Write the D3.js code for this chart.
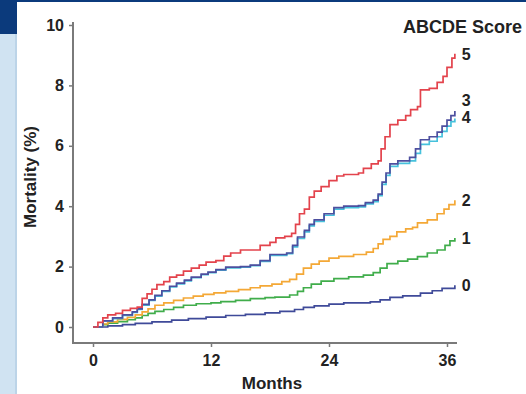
<!DOCTYPE html>
<html>
<head>
<meta charset="utf-8">
<script src="https://cdn.jsdelivr.net/npm/d3@7"></script>
<style>
  body { margin: 0; background: #fff; }
  text { font-family: "Liberation Sans", Arial, sans-serif; font-weight: bold; fill: #222; }
</style>
</head>
<body>
<div id="container"></div>
<script>
// cumulative mortality (%) by month, one step series per ABCDE score
const score0 = [[0,0],[1.5,0.04],[3,0.08],[4.3,0.12],[6,0.17],[8,0.23],[9.7,0.28],[11.5,0.33],[13.5,0.38],[15.5,0.42],[17.5,0.47],[19,0.52],[20.5,0.58],[21.4,0.65],[22.5,0.7],[24,0.76],[25.5,0.8],[28.2,0.83],[29.2,0.9],[30.2,0.98],[31.5,1.03],[33.3,1.12],[34.5,1.2],[35.5,1.28],[36.8,1.38]];
const score1 = [[0,0],[1,0.08],[1.5,0.13],[2.5,0.18],[3.5,0.24],[4.3,0.3],[5,0.38],[5.6,0.45],[6.3,0.52],[7.2,0.58],[8.2,0.65],[9.2,0.72],[10.5,0.77],[12,0.8],[13,0.84],[14.5,0.88],[16,0.94],[17.5,0.97],[18.5,0.99],[20,1.06],[20.8,1.18],[21.4,1.3],[22.2,1.42],[23.2,1.52],[24.5,1.6],[26,1.66],[27.5,1.72],[28.5,1.8],[29.2,1.95],[29.9,2.1],[31,2.18],[32,2.25],[33,2.33],[34,2.45],[35,2.55],[35.8,2.7],[36.3,2.85],[36.8,2.95]];
const score2 = [[0,0],[1,0.1],[1.5,0.17],[2.5,0.25],[3.5,0.32],[4.3,0.4],[5,0.5],[5.6,0.6],[6.3,0.72],[7.2,0.8],[8.2,0.88],[9.2,0.96],[10.2,1.02],[11.2,1.08],[12.3,1.13],[13.5,1.18],[14.8,1.24],[16,1.3],[17,1.36],[18.2,1.42],[19.2,1.5],[20,1.58],[20.7,1.75],[21.4,1.95],[22.2,2.08],[23,2.18],[24,2.28],[25,2.34],[26.5,2.4],[27.8,2.48],[28.5,2.6],[29,2.75],[29.5,2.9],[30.2,3.0],[30.9,3.15],[31.8,3.25],[32.5,3.3],[33,3.45],[34,3.55],[35,3.75],[35.7,3.9],[36.2,4.05],[36.8,4.2]];
const score3 = [[0,0],[1,0.2],[2,0.3],[3,0.4],[4,0.5],[4.5,0.6],[5,0.75],[5.7,0.9],[6.3,1.05],[7,1.2],[7.8,1.35],[8.5,1.45],[9.3,1.55],[10,1.65],[11,1.75],[11.7,1.82],[12.5,1.9],[13.5,1.98],[15,2.0],[16,2.05],[17,2.2],[18,2.4],[19.7,2.45],[20.3,2.7],[20.8,2.98],[21.5,3.2],[22,3.4],[22.5,3.55],[23.5,3.75],[24.5,3.95],[25.5,4.0],[27,4.02],[27.7,4.12],[28.5,4.2],[29,4.4],[29.4,4.8],[29.8,5.1],[30.2,5.4],[31,5.5],[32.2,5.62],[32.8,5.9],[33.3,6.2],[34.2,6.3],[35,6.45],[35.5,6.65],[36,6.85],[36.4,7.0],[36.8,7.15]];
const score4 = [[0,0],[1,0.2],[2,0.28],[3,0.38],[4,0.48],[4.5,0.58],[5,0.72],[5.7,0.88],[6.3,1.02],[7,1.18],[7.8,1.33],[8.5,1.43],[9.3,1.53],[10,1.63],[11,1.73],[11.7,1.8],[12.5,1.88],[13.5,1.96],[15,1.98],[16,2.03],[17,2.17],[18,2.37],[19.7,2.43],[20.3,2.65],[20.8,2.93],[21.5,3.15],[22,3.35],[22.5,3.5],[23.5,3.7],[24.5,3.9],[25.5,3.95],[27,3.98],[27.7,4.08],[28.5,4.15],[29,4.35],[29.4,4.72],[29.8,5.02],[30.2,5.32],[31,5.42],[32.2,5.5],[32.8,5.75],[33.3,6.05],[34.2,6.15],[35,6.3],[35.5,6.48],[36,6.65],[36.4,6.8],[36.8,6.9]];
const score5 = [[0,0],[0.5,0.15],[1,0.3],[1.5,0.4],[2.3,0.45],[3,0.55],[3.8,0.62],[4.5,0.66],[5,0.95],[5.5,1.1],[6,1.25],[6.5,1.4],[7.2,1.5],[7.8,1.65],[8.5,1.72],[9.2,1.85],[10,1.95],[10.8,2.05],[11.5,2.15],[12.5,2.2],[13.3,2.35],[14,2.45],[15,2.55],[16.5,2.55],[17,2.7],[18,2.8],[18.6,2.95],[19.5,3.0],[20.2,3.1],[20.6,3.4],[21,3.75],[21.5,3.9],[22,4.3],[22.5,4.5],[23.2,4.65],[24,4.85],[24.8,5.0],[25.5,5.05],[27,5.1],[27.5,5.25],[28.3,5.4],[29,5.5],[29.3,5.9],[29.7,6.3],[30.2,6.7],[31,6.85],[31.8,7.0],[32.3,7.2],[33,7.3],[33.3,7.85],[34.2,7.9],[35,8.1],[35.6,8.3],[36,8.6],[36.5,8.9],[36.8,9.05]];

const scores = ["0", "1", "2", "3", "4", "5"];
const seriesData = [score0, score1, score2, score3, score4, score5];
const xTicks = [0, 12, 24, 36];
const yTicks = [0, 2, 4, 6, 8, 10];

// styles
const colors = ["#3f4a99", "#40ad4b", "#f4a836", "#4d4f9f", "#46c1dc", "#e3434c"];
const drawOrder = [0, 1, 2, 4, 3, 5];
const labelNudge = [0, 0, 0, -11, -1, 1];

const W = 526, H = 394;

const svg = d3.select("#container").append("svg")
    .attr("width", W)
    .attr("height", H);

// slide frame
svg.append("rect").attr("width", W).attr("height", H).attr("fill", "#fff");
svg.append("rect").attr("width", W).attr("height", 2).attr("fill", "#0b3a7c");
svg.append("rect").attr("x", 0).attr("y", 34).attr("width", 17).attr("height", H - 34).attr("fill", "#d0e3f2");
svg.append("rect").attr("x", 15).attr("y", 34).attr("width", 2).attr("height", H - 34).attr("fill", "#bcd4e8");
svg.append("rect").attr("width", 17).attr("height", 34).attr("fill", "#0b3a7c");

const x = d3.scaleLinear().domain([0, 36]).range([93, 447]);
const y = d3.scaleLinear().domain([0, 10]).range([327, 25]);

const axisColor = "#7a7a7a";
const axisLeftX = x(0) - 20;
const axisBottomY = y(0) + 16;

// y axis
const yAxis = svg.append("g")
    .attr("transform", "translate(" + axisLeftX + ",0)")
    .call(d3.axisLeft(y).tickValues(yTicks).tickSize(4).tickPadding(5));
yAxis.select(".domain").remove();
yAxis.selectAll("line").attr("stroke", axisColor).attr("stroke-width", 1.5);
yAxis.selectAll("text").style("font-size", "16px").attr("fill", "#222");

// x axis
const xAxis = svg.append("g")
    .attr("transform", "translate(0," + axisBottomY + ")")
    .call(d3.axisBottom(x).tickValues(xTicks).tickSize(4).tickPadding(8));
xAxis.select(".domain").remove();
xAxis.selectAll("line").attr("stroke", axisColor).attr("stroke-width", 1.5);
xAxis.selectAll("text").style("font-size", "16px").attr("fill", "#222");

// L-shaped frame
svg.append("path")
    .attr("d", "M" + axisLeftX + "," + (y(10) - 3) + "V" + axisBottomY + "H" + (x(36) + 10))
    .attr("fill", "none")
    .attr("stroke", axisColor)
    .attr("stroke-width", 2);

// step lines
const line = d3.line()
    .x(function(d) { return x(d[0]); })
    .y(function(d) { return y(d[1]); })
    .curve(d3.curveStepAfter);

drawOrder.forEach(function(i) {
    svg.append("path")
        .datum(seriesData[i])
        .attr("fill", "none")
        .attr("stroke", colors[i])
        .attr("stroke-width", 1.7)
        .attr("d", line);
});

// end labels
scores.forEach(function(s, i) {
    const last = seriesData[i][seriesData[i].length - 1];
    svg.append("text")
        .attr("x", x(last[0]) + 7)
        .attr("y", y(last[1]) + labelNudge[i])
        .attr("dy", "0.36em")
        .style("font-size", "16px")
        .text(s);
});

// titles
svg.append("text")
    .attr("x", 403)
    .attr("y", 33)
    .style("font-size", "18px")
    .text("ABCDE Score");

svg.append("text")
    .attr("x", (x(0) + x(36)) / 2 + 2)
    .attr("y", 389)
    .attr("text-anchor", "middle")
    .style("font-size", "17px")
    .text("Months");

svg.append("text")
    .attr("transform", "translate(36," + ((y(0) + y(10)) / 2 + 1) + ") rotate(-90)")
    .attr("text-anchor", "middle")
    .style("font-size", "17px")
    .text("Mortality (%)");
</script>
</body>
</html>
